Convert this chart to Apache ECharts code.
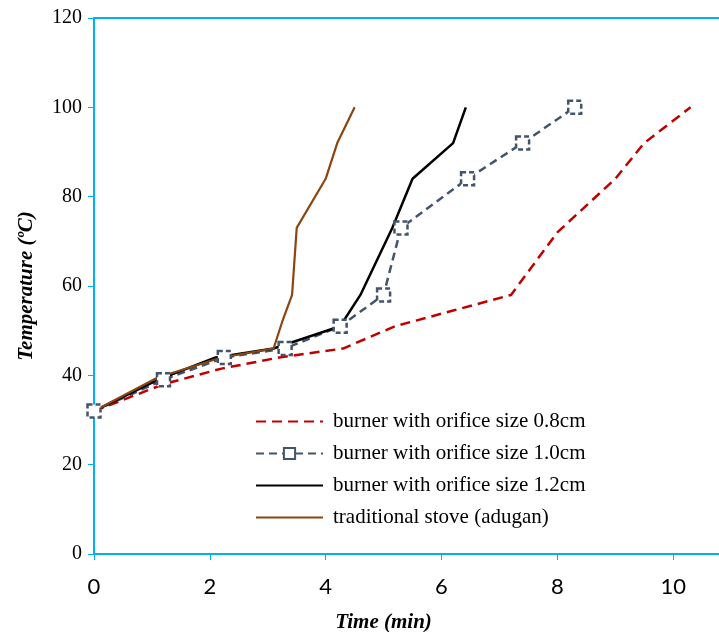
<!DOCTYPE html>
<html>
<head>
<meta charset="utf-8">
<script src="https://cdn.jsdelivr.net/npm/echarts@6/dist/echarts.min.js"></script>
<style>
  html, body { margin: 0; padding: 0; background: #fff; }
  #chart { width: 719px; height: 632px; }
</style>
</head>
<body>
<div id="chart"></div>
<script>
  // [time (min), temperature (ºC)]
  var orifice08 = [[0, 32], [1.2, 38], [2.2, 41.5], [3.2, 44], [4.3, 46], [5.2, 51], [6.2, 54.5], [7.2, 58], [8.0, 72], [9.0, 84], [9.5, 92], [10.3, 100]];
  var orifice10 = [[0, 32], [1.2, 39], [2.25, 44], [3.3, 46], [4.25, 51], [5.0, 58], [5.3, 73], [6.45, 84], [7.4, 92], [8.3, 100]];
  var orifice12 = [[0, 32], [1.1, 39], [2.1, 44], [3.1, 46], [4.25, 51], [4.6, 58], [5.15, 73], [5.5, 84], [6.2, 92], [6.42, 100]];
  var traditional = [[0, 32], [1.1, 39.5], [2.2, 44], [3.1, 46], [3.25, 52], [3.42, 58], [3.5, 73], [4.0, 84], [4.2, 92], [4.5, 100]];

  var names = ['burner with orifice size 0.8cm', 'burner with orifice size 1.0cm', 'burner with orifice size 1.2cm', 'traditional stove (adugan)'];

  var axisBlue = '#00B0F0';
  var serif = 'Liberation Serif';

  var chart = echarts.init(document.getElementById('chart'));
  chart.setOption({
    animation: false,
    grid: {
      left: 94,
      top: 18,
      right: -70,
      bottom: 78,
      outerBoundsMode: 'none',
      show: true,
      borderColor: axisBlue,
      borderWidth: 2
    },
    legend: {
      orient: 'vertical',
      left: 250,
      top: 406,
      itemWidth: 67,
      itemHeight: 14,
      itemGap: 11,
      textStyle: { fontFamily: serif, fontSize: 21, color: '#000', padding: [0, 0, 0, 5] },
      data: [
        { name: names[0], itemStyle: { opacity: 0 } },
        { name: names[1] },
        { name: names[2], itemStyle: { opacity: 0 } },
        { name: names[3], itemStyle: { opacity: 0 } }
      ]
    },
    xAxis: {
      type: 'value',
      min: 0,
      max: 12,
      interval: 2,
      name: 'Time (min)',
      nameLocation: 'middle',
      nameGap: 58,
      nameTextStyle: { fontFamily: serif, fontStyle: 'italic', fontWeight: 'bold', fontSize: 21, color: '#000', padding: [0, 0, 0, -116] },
      splitLine: { show: false },
      axisLine: { lineStyle: { color: axisBlue, width: 2 } },
      axisTick: { show: true, length: 6, lineStyle: { color: axisBlue } },
      axisLabel: { fontFamily: 'Lato', fontSize: 22, color: '#000', margin: 22 }
    },
    yAxis: {
      type: 'value',
      min: 0,
      max: 120,
      interval: 20,
      name: 'Temperature (ºC)',
      nameLocation: 'middle',
      nameGap: 57,
      nameTextStyle: { fontFamily: serif, fontStyle: 'italic', fontWeight: 'bold', fontSize: 21, color: '#000' },
      splitLine: { show: false },
      axisLine: { lineStyle: { color: axisBlue, width: 2 } },
      axisTick: { show: true, length: 6, lineStyle: { color: axisBlue } },
      axisLabel: { fontFamily: serif, fontSize: 20, color: '#000', margin: 12 }
    },
    series: [
      {
        name: names[0],
        type: 'line',
        data: orifice08,
        symbol: 'none',
        lineStyle: { color: '#C00000', width: 2.5, type: [10, 6] },
        itemStyle: { color: '#C00000' }
      },
      {
        name: names[1],
        type: 'line',
        data: orifice10,
        symbol: 'rect',
        symbolSize: 13,
        lineStyle: { color: '#44546A', width: 2.5, type: [8, 5] },
        itemStyle: { color: '#fff', borderColor: '#44546A', borderWidth: 2.5, borderType: [5, 3] }
      },
      {
        name: names[2],
        type: 'line',
        data: orifice12,
        symbol: 'none',
        lineStyle: { color: '#000', width: 2.5 },
        itemStyle: { color: '#000' }
      },
      {
        name: names[3],
        type: 'line',
        data: traditional,
        symbol: 'none',
        lineStyle: { color: '#8B4513', width: 2.2 },
        itemStyle: { color: '#8B4513' }
      }
    ]
  });
</script>
</body>
</html>
